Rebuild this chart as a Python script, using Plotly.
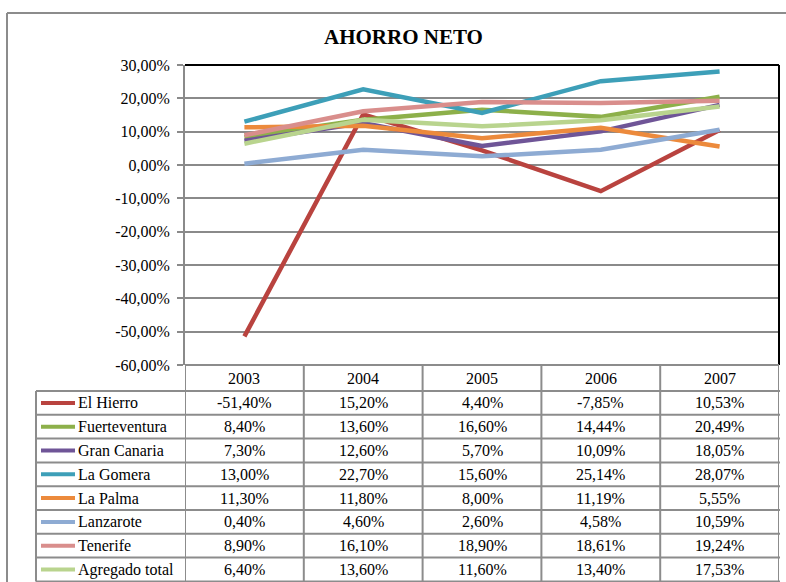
import plotly.graph_objects as go

years = ["2003", "2004", "2005", "2006", "2007"]
series_names = ["El Hierro", "Fuerteventura", "Gran Canaria", "La Gomera",
                "La Palma", "Lanzarote", "Tenerife", "Agregado total"]
el_hierro = [-51.40, 15.20, 4.40, -7.85, 10.53]
fuerteventura = [8.40, 13.60, 16.60, 14.44, 20.49]
gran_canaria = [7.30, 12.60, 5.70, 10.09, 18.05]
la_gomera = [13.00, 22.70, 15.60, 25.14, 28.07]
la_palma = [11.30, 11.80, 8.00, 11.19, 5.55]
lanzarote = [0.40, 4.60, 2.60, 4.58, 10.59]
tenerife = [8.90, 16.10, 18.90, 18.61, 19.24]
agregado_total = [6.40, 13.60, 11.60, 13.40, 17.53]
series_values = [el_hierro, fuerteventura, gran_canaria, la_gomera,
                 la_palma, lanzarote, tenerife, agregado_total]
colors = ["#B9433F", "#8DB04A", "#6F5597", "#3D9FB8",
          "#EC8A3C", "#8EABD3", "#D98E8C", "#B9D48E"]
tick_vals = [30, 20, 10, 0, -10, -20, -30, -40, -50, -60]
tick_text = ["30,00%", "20,00%", "10,00%", "0,00%", "-10,00%", "-20,00%",
             "-30,00%", "-40,00%", "-50,00%", "-60,00%"]

W, H = 786, 582
L, R, T, B = 185, 7, 65, 217
PW, PH = W - L - R, H - T - B
FONT = "Liberation Serif, Times New Roman, serif"
GRID = "#8a8a8a"


def px_x(px):
    return (px - L) / PW


def px_y(py):
    return (H - B - py) / PH


def fmt(v):
    return f"{v:.2f}%".replace(".", ",")


fig = go.Figure()
for name, vals, col in zip(series_names, series_values, colors):
    fig.add_trace(go.Scatter(x=list(range(len(years))), y=vals, name=name,
                             mode="lines", line=dict(color=col, width=4.5),
                             showlegend=False, hoverinfo="skip"))

shapes = []
annotations = []

shapes.append(dict(type="line", xref="paper", yref="paper",
                   x0=px_x(7), x1=px_x(800), y0=px_y(13), y1=px_y(13),
                   line=dict(color="#8c8c8c", width=2)))
shapes.append(dict(type="line", xref="paper", yref="paper",
                   x0=px_x(7), x1=px_x(7), y0=px_y(13), y1=px_y(600),
                   line=dict(color="#8c8c8c", width=2)))

shapes.append(dict(type="line", xref="paper", yref="paper",
                   x0=0, x1=1, y0=1, y1=1, line=dict(color="black", width=2)))
shapes.append(dict(type="line", xref="paper", yref="paper",
                   x0=1, x1=1, y0=0, y1=1, line=dict(color="black", width=2)))

header_top, header_bot = 365, 391
row_h = 23.8
n = len(series_names)
bottom = header_bot + row_h * n
tcol = "#8c8c8c"
tw = 2

shapes.append(dict(type="line", xref="x", yref="paper", x0=-0.5, x1=4.5,
                   y0=px_y(header_top), y1=px_y(header_top),
                   line=dict(color=tcol, width=tw)))
for i in range(n + 1):
    yy = header_bot + row_h * i
    shapes.append(dict(type="line", xref="paper", yref="paper",
                       x0=px_x(36), x1=1.0017, y0=px_y(yy), y1=px_y(yy),
                       line=dict(color=tcol, width=tw)))
shapes.append(dict(type="line", xref="paper", yref="paper", x0=px_x(36), x1=px_x(36),
                   y0=px_y(header_bot), y1=px_y(bottom), line=dict(color=tcol, width=tw)))
for k in range(len(years) + 1):
    shapes.append(dict(type="line", xref="x", yref="paper", x0=k - 0.5, x1=k - 0.5,
                       y0=px_y(header_top), y1=px_y(bottom),
                       line=dict(color=tcol, width=tw)))

TXT = dict(family=FONT, size=16, color="black")
for k, yr in enumerate(years):
    annotations.append(dict(x=k, y=px_y((header_top + header_bot) / 2), xref="x",
                            yref="paper", text=yr, showarrow=False,
                            xanchor="center", yanchor="middle", font=TXT))
for i, (name, vals, col) in enumerate(zip(series_names, series_values, colors)):
    cy = header_bot + row_h * i + row_h / 2
    shapes.append(dict(type="line", xref="paper", yref="paper",
                       x0=px_x(41), x1=px_x(75), y0=px_y(cy), y1=px_y(cy),
                       line=dict(color=col, width=4)))
    annotations.append(dict(x=px_x(76), y=px_y(cy), xref="paper", yref="paper",
                            text=name, showarrow=False, xanchor="left",
                            yanchor="middle", font=TXT))
    for k, v in enumerate(vals):
        annotations.append(dict(x=k, y=px_y(cy), xref="x", yref="paper",
                                text=fmt(v), showarrow=False,
                                xanchor="center", yanchor="middle", font=TXT))

annotations.append(dict(x=px_x(403), y=px_y(37), xref="paper", yref="paper",
                        text="<b>AHORRO NETO</b>", showarrow=False,
                        xanchor="center", yanchor="middle",
                        font=dict(family=FONT, size=21, color="black")))

fig.update_layout(
    width=W, height=H,
    margin=dict(l=L, r=R, t=T, b=B, autoexpand=False),
    paper_bgcolor="white", plot_bgcolor="white",
    shapes=shapes, annotations=annotations,
    xaxis=dict(range=[-0.5, 4.5], showticklabels=False, showgrid=False,
               zeroline=False, showline=False, fixedrange=True),
    yaxis=dict(range=[-60, 30], tickvals=tick_vals, ticktext=tick_text,
               showgrid=True, gridcolor=GRID, gridwidth=2, zeroline=False,
               showline=True, linecolor=GRID, linewidth=2,
               ticks="outside", ticklen=6, tickcolor=GRID, tickwidth=2,
               ticklabelstandoff=4, tickfont=TXT, fixedrange=True),
)

fig.write_html("out.html", config={"displayModeBar": False},
               post_script="document.body.style.margin='0';")
